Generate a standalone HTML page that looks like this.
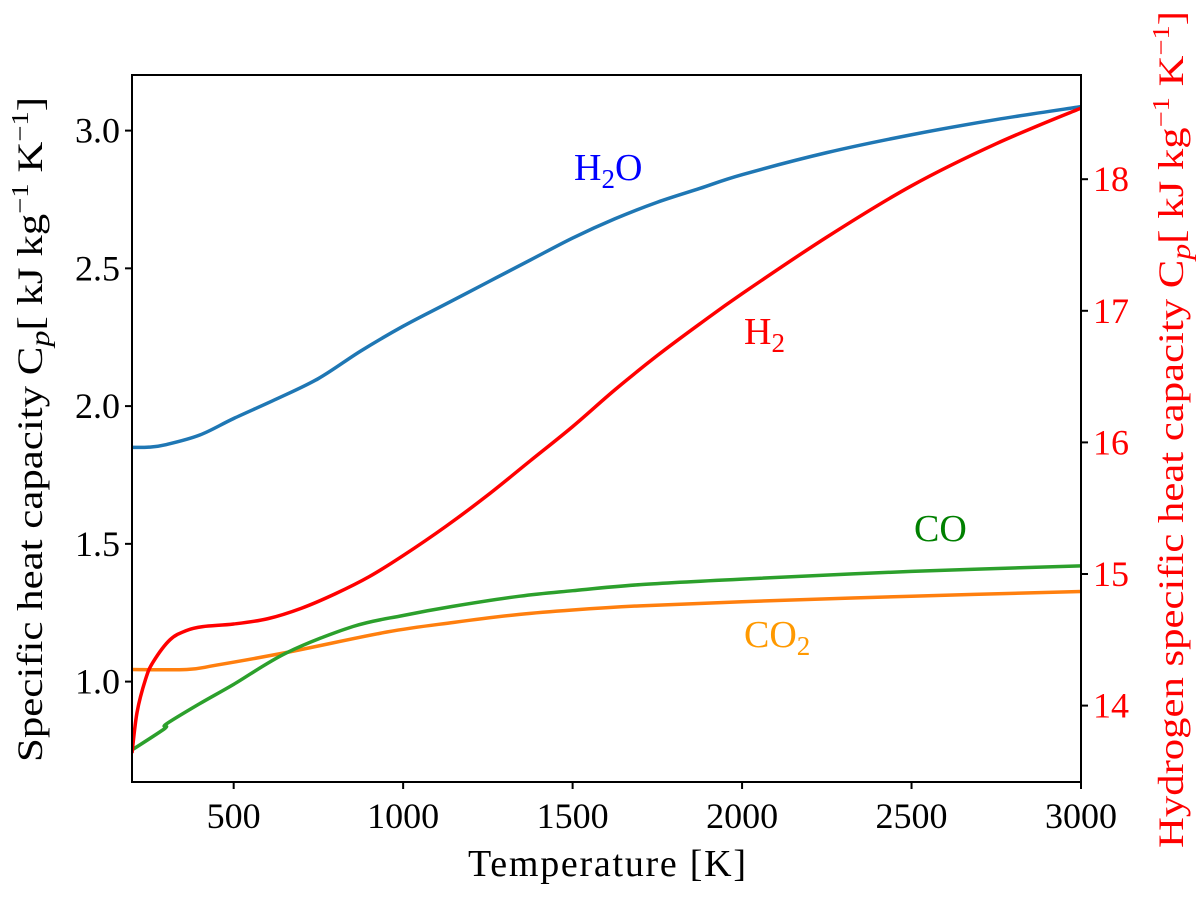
<!DOCTYPE html>
<html><head><meta charset="utf-8"><style>
body{margin:0;background:#fff;}
svg text{font-family:"Liberation Serif",serif;}
</style></head><body>
<svg id="c" width="1200" height="898" xmlns="http://www.w3.org/2000/svg"></svg>
<script>
const xTicks=[500,1000,1500,2000,2500,3000];
const yLeftTicks=[1.0,1.5,2.0,2.5,3.0];
const yRightTicks=[14,15,16,17,18];
const h2oT=[200,250,300,400,500,625,750,875,1000,1125,1250,1375,1500,1625,1750,1875,2000,2250,2500,2750,3000];
const h2oV=[1.85,1.851,1.86,1.895,1.955,2.025,2.1,2.2,2.29,2.37,2.45,2.53,2.61,2.68,2.74,2.79,2.84,2.92,2.985,3.04,3.087];
const h2T=[200,215,240,262,312,360,409,500,600,700,800,900,1000,1125,1250,1375,1500,1625,1750,1875,2000,2250,2500,2750,3000];
const h2V=[13.64,13.95,14.2,14.33,14.5,14.57,14.6,14.62,14.66,14.74,14.85,14.98,15.14,15.36,15.6,15.86,16.12,16.4,16.66,16.9,17.13,17.56,17.95,18.27,18.54];
const coT=[200,297,300,400,500,657,852,1000,1146,1344,1500,1700,2000,2500,3000];
const coV=[0.752,0.83,0.845,0.92,0.99,1.105,1.2,1.24,1.273,1.31,1.33,1.352,1.372,1.4,1.42];
const co2T=[200,362,450,657,952,1150,1344,1500,1700,2000,2500,3000];
const co2V=[1.044,1.044,1.06,1.106,1.18,1.215,1.244,1.26,1.275,1.29,1.31,1.327];
const L=132,R=1081,T=75,B=782;
const x=t=>L+(t-200)*(R-L)/2800;
const yl=v=>681.6-(v-1.0)*275.5;
const yr=v=>705.6-(v-14)*131.6;
const s=document.getElementById('c');const NS="http://www.w3.org/2000/svg";
function mk(tag,a,p){const e=document.createElementNS(NS,tag);for(const k in a)e.setAttribute(k,a[k]);(p||s).appendChild(e);return e;}
function path(ts,vs,yf){const P=ts.map((t,i)=>[x(t),yf(vs[i])]);let d=`M${P[0][0]},${P[0][1]}`;
for(let i=0;i<P.length-1;i++){const p0=P[Math.max(0,i-1)],p1=P[i],p2=P[i+1],p3=P[Math.min(P.length-1,i+2)];
const c1=[p1[0]+(p2[0]-p0[0])/6,p1[1]+(p2[1]-p0[1])/6],c2=[p2[0]-(p3[0]-p1[0])/6,p2[1]-(p3[1]-p1[1])/6];
d+=` C${c1[0]},${c1[1]} ${c2[0]},${c2[1]} ${p2[0]},${p2[1]}`;}return d;}
const clip=mk('clipPath',{id:'cp'});mk('rect',{x:L,y:T,width:R-L,height:B-T},clip);
const series=[[h2oT,h2oV,yl,'#1f77b4','line-h2o'],[co2T,co2V,yl,'#ff7f0e','line-co2'],[coT,coV,yl,'#2ca02c','line-co'],[h2T,h2V,yr,'#ff0000','line-h2']];
series.forEach(([ts,vs,yf,c,n])=>{const e=mk('path',{d:path(ts,vs,yf),fill:'none',stroke:c,'stroke-width':3.5,'clip-path':'url(#cp)'});

});
const fr=mk('rect',{x:L,y:T,width:R-L,height:B-T,fill:'none',stroke:'#000','stroke-width':2});


xTicks.forEach(t=>{mk('line',{x1:x(t),x2:x(t),y1:B,y2:B+7,stroke:'#000','stroke-width':2});
const e=mk('text',{x:x(t),y:828,'font-size':36,'text-anchor':'middle'});e.textContent=t;

});
yLeftTicks.forEach(v=>{mk('line',{x1:L-7,x2:L,y1:yl(v),y2:yl(v),stroke:'#000','stroke-width':2});
const e=mk('text',{x:L-12,y:yl(v)+12,'font-size':36,'text-anchor':'end'});e.textContent=v.toFixed(1);

});
yRightTicks.forEach(v=>{mk('line',{x1:R,x2:R+7,y1:yr(v),y2:yr(v),stroke:'#000','stroke-width':2});
const e=mk('text',{x:R+12,y:yr(v)+12,'font-size':36,fill:'#ff0000'});e.textContent=v;

});
function lbl(html,xx,yy,c,n,extra){const e=mk('text',Object.assign({x:xx,y:yy,'font-size':38,fill:c},extra||{}));e.innerHTML=html;

return e;}
lbl('Temperature [K]',607,876,'#000','x-axis-title',{'text-anchor':'middle',textLength:278});
const sup='<tspan font-size="24" dy="-14">−1</tspan>';
lbl('Specific heat capacity C<tspan font-style="italic" font-size="27" dy="7">p</tspan><tspan dy="-7">[ kJ kg</tspan>'+sup+'<tspan dy="14"> K</tspan>'+sup+'<tspan dy="14">]</tspan>',-332,0,'#000','y-left-axis-title',{transform:'translate(42,430) rotate(-90)','font-size':36,textLength:665,lengthAdjust:'spacingAndGlyphs'});
lbl('Hydrogen specific heat capacity C<tspan font-style="italic" font-size="27" dy="7">p</tspan><tspan dy="-7">[ kJ kg</tspan>'+sup+'<tspan dy="14"> K</tspan>'+sup+'<tspan dy="14">]</tspan>',-418,0,'#ff0000','y-right-axis-title',{transform:'translate(1183,430) rotate(-90)','font-size':36,textLength:837,lengthAdjust:'spacingAndGlyphs'});
lbl('H<tspan font-size="27" dy="8">2</tspan><tspan dy="-8">O</tspan>',574,180,'#0000ff','label-h2o');
lbl('H<tspan font-size="27" dy="8">2</tspan>',744,344,'#ff0000','label-h2');
lbl('CO',914,541,'#008000','label-co');
lbl('CO<tspan font-size="27" dy="8">2</tspan>',744,647,'#ff9900','label-co2');
</script>
</body></html>
